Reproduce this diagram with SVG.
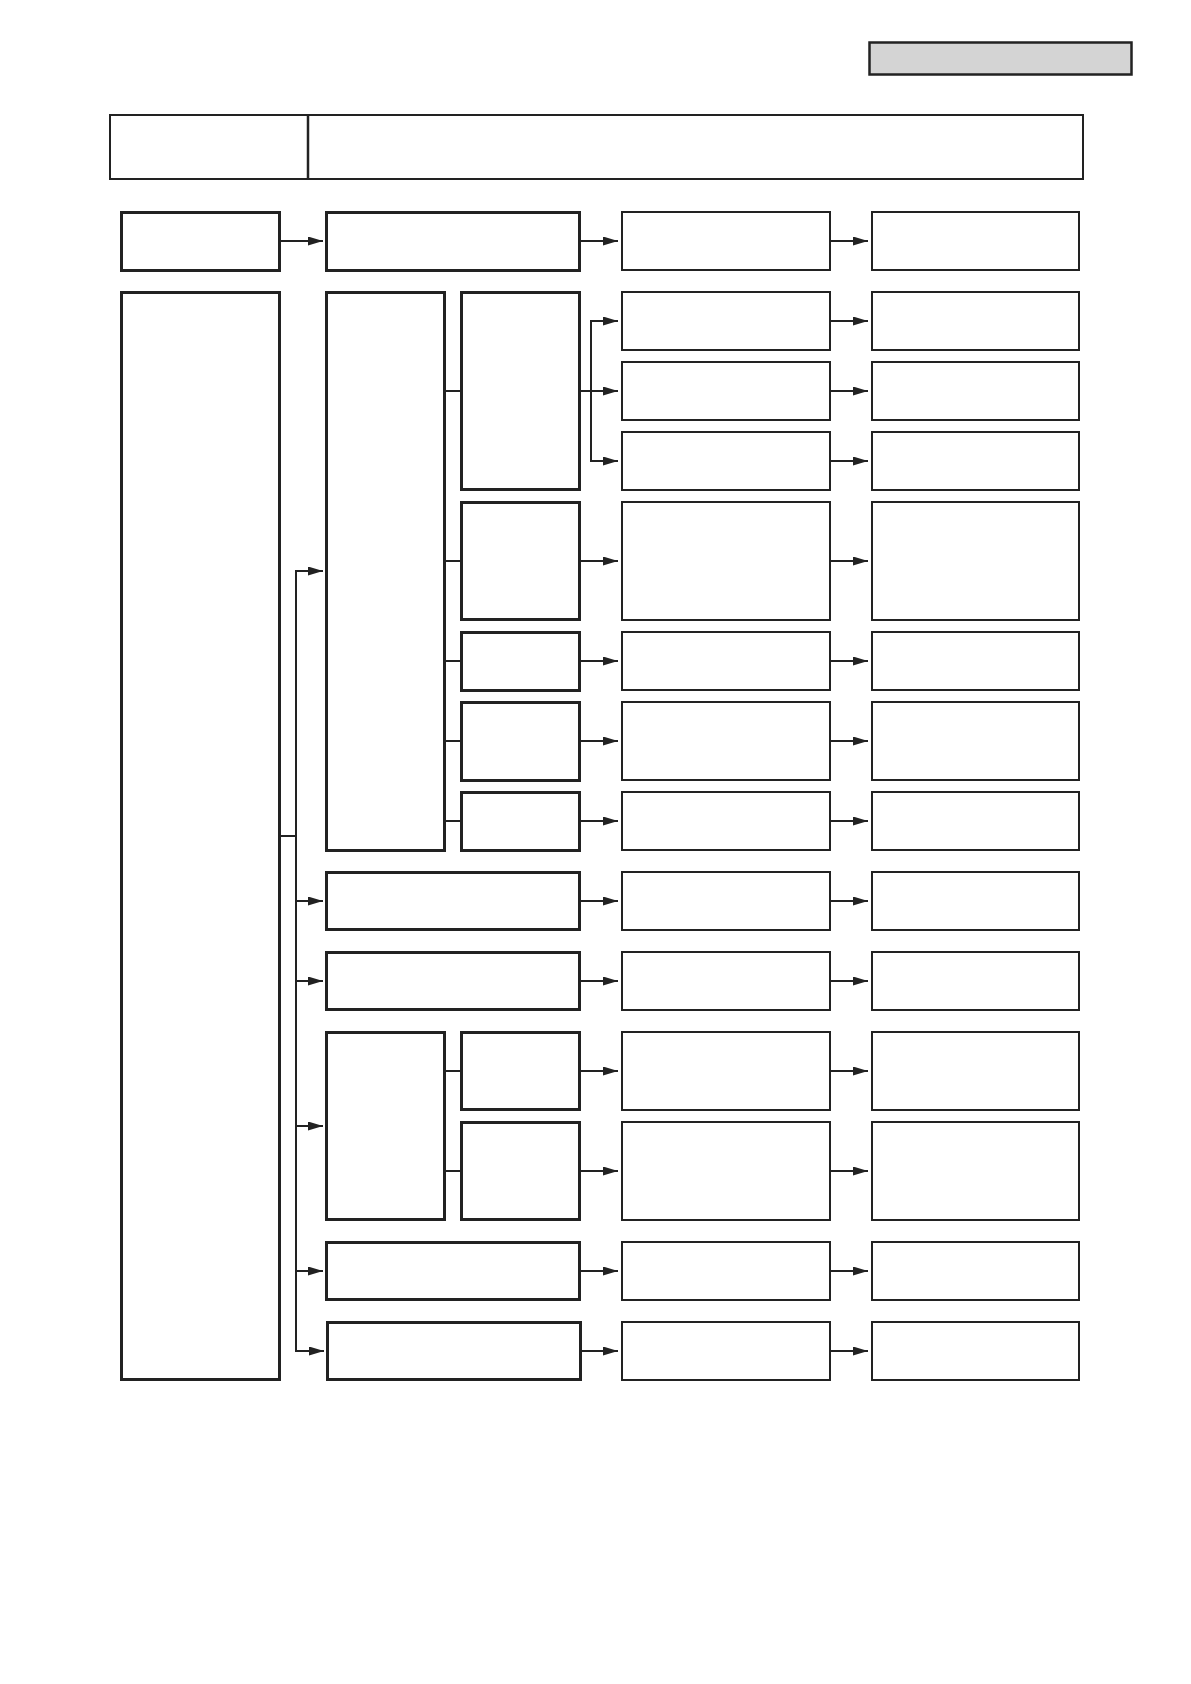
<svg xmlns="http://www.w3.org/2000/svg" width="1191" height="1684" viewBox="0 0 1191 1684">
<style>
rect{fill:#fff;stroke:#222}
.b{stroke-width:3}
.t{stroke-width:2}
.g{fill:#d4d4d4;stroke-width:2.5}
#connectors line{stroke:#222;stroke-width:2}
.a{marker-end:url(#arr)}
</style>
<defs>
<marker id="arr" markerUnits="userSpaceOnUse" markerWidth="15" markerHeight="9" refX="15" refY="4.5" orient="auto">
<path d="M0,0 L15,4.5 L0,9 z" fill="#222"/>
</marker>
</defs>
<rect width="1191" height="1684" style="fill:#fff;stroke:none"/>
<g id="tag"><rect class="g" x="869.5" y="42.5" width="262" height="32"/></g>
<g id="header"><rect class="t" x="110" y="115" width="973" height="64"/><line x1="308" y1="115" x2="308" y2="179" stroke="#222" stroke-width="2.5"/></g>
<g id="colA">
<rect id="A" class="b" x="121.5" y="212.5" width="158" height="58"/>
<rect id="Lbig" class="b" x="121.5" y="292.5" width="158" height="1087"/>
</g>
<g id="colB">
<rect id="B0" class="b" x="326.5" y="212.5" width="253" height="58"/>
<rect id="E" class="b" x="326.5" y="292.5" width="118" height="558"/>
<rect id="F" class="b" x="461.5" y="292.5" width="118" height="197"/>
<rect id="G" class="b" x="461.5" y="502.5" width="118" height="117"/>
<rect id="H" class="b" x="461.5" y="632.5" width="118" height="58"/>
<rect id="I" class="b" x="461.5" y="702.5" width="118" height="78"/>
<rect id="J" class="b" x="461.5" y="792.5" width="118" height="58"/>
<rect id="R8" class="b" x="326.5" y="872.5" width="253" height="57"/>
<rect id="R9" class="b" x="326.5" y="952.5" width="253" height="57"/>
<rect id="K" class="b" x="326.5" y="1032.5" width="118" height="187"/>
<rect id="Lb" class="b" x="461.5" y="1032.5" width="118" height="77"/>
<rect id="M" class="b" x="461.5" y="1122.5" width="118" height="97"/>
<rect id="R12" class="b" x="326.5" y="1242.5" width="253" height="57"/>
<rect id="R13" class="b" x="327.5" y="1322.5" width="253" height="57"/>
</g>
<g id="colC">
<rect class="t" x="622" y="212" width="208" height="58"/>
<rect class="t" x="622" y="292" width="208" height="58"/>
<rect class="t" x="622" y="362" width="208" height="58"/>
<rect class="t" x="622" y="432" width="208" height="58"/>
<rect class="t" x="622" y="502" width="208" height="118"/>
<rect class="t" x="622" y="632" width="208" height="58"/>
<rect class="t" x="622" y="702" width="208" height="78"/>
<rect class="t" x="622" y="792" width="208" height="58"/>
<rect class="t" x="622" y="872" width="208" height="58"/>
<rect class="t" x="622" y="952" width="208" height="58"/>
<rect class="t" x="622" y="1032" width="208" height="78"/>
<rect class="t" x="622" y="1122" width="208" height="98"/>
<rect class="t" x="622" y="1242" width="208" height="58"/>
<rect class="t" x="622" y="1322" width="208" height="58"/>
</g>
<g id="colD">
<rect class="t" x="872" y="212" width="207" height="58"/>
<rect class="t" x="872" y="292" width="207" height="58"/>
<rect class="t" x="872" y="362" width="207" height="58"/>
<rect class="t" x="872" y="432" width="207" height="58"/>
<rect class="t" x="872" y="502" width="207" height="118"/>
<rect class="t" x="872" y="632" width="207" height="58"/>
<rect class="t" x="872" y="702" width="207" height="78"/>
<rect class="t" x="872" y="792" width="207" height="58"/>
<rect class="t" x="872" y="872" width="207" height="58"/>
<rect class="t" x="872" y="952" width="207" height="58"/>
<rect class="t" x="872" y="1032" width="207" height="78"/>
<rect class="t" x="872" y="1122" width="207" height="98"/>
<rect class="t" x="872" y="1242" width="207" height="58"/>
<rect class="t" x="872" y="1322" width="207" height="58"/>
</g>
<g id="connectors">
<line class="a" x1="281" y1="241" x2="323" y2="241"/>
<line class="a" x1="581" y1="241" x2="618" y2="241"/>
<line x1="281" y1="836" x2="297" y2="836"/>
<line x1="296" y1="570" x2="296" y2="1352"/>
<line class="a" x1="296" y1="571" x2="323" y2="571"/>
<line class="a" x1="296" y1="901" x2="323" y2="901"/>
<line class="a" x1="296" y1="981" x2="323" y2="981"/>
<line class="a" x1="296" y1="1126" x2="323" y2="1126"/>
<line class="a" x1="296" y1="1271" x2="323" y2="1271"/>
<line class="a" x1="295" y1="1351" x2="324" y2="1351"/>
<line x1="446" y1="391" x2="460" y2="391"/>
<line x1="446" y1="561" x2="460" y2="561"/>
<line x1="446" y1="661" x2="460" y2="661"/>
<line x1="446" y1="741" x2="460" y2="741"/>
<line x1="446" y1="821" x2="460" y2="821"/>
<line x1="446" y1="1071" x2="460" y2="1071"/>
<line x1="446" y1="1171" x2="460" y2="1171"/>
<line x1="581" y1="391" x2="592" y2="391"/>
<line x1="591" y1="320" x2="591" y2="462"/>
<line class="a" x1="590" y1="321" x2="618" y2="321"/>
<line class="a" x1="591" y1="391" x2="618" y2="391"/>
<line class="a" x1="590" y1="461" x2="618" y2="461"/>
<line class="a" x1="581" y1="561" x2="618" y2="561"/>
<line class="a" x1="581" y1="661" x2="618" y2="661"/>
<line class="a" x1="581" y1="741" x2="618" y2="741"/>
<line class="a" x1="581" y1="821" x2="618" y2="821"/>
<line class="a" x1="581" y1="901" x2="618" y2="901"/>
<line class="a" x1="581" y1="981" x2="618" y2="981"/>
<line class="a" x1="581" y1="1071" x2="618" y2="1071"/>
<line class="a" x1="581" y1="1171" x2="618" y2="1171"/>
<line class="a" x1="581" y1="1271" x2="618" y2="1271"/>
<line class="a" x1="582" y1="1351" x2="618" y2="1351"/>
<line class="a" x1="831" y1="241" x2="868" y2="241"/>
<line class="a" x1="831" y1="321" x2="868" y2="321"/>
<line class="a" x1="831" y1="391" x2="868" y2="391"/>
<line class="a" x1="831" y1="461" x2="868" y2="461"/>
<line class="a" x1="831" y1="561" x2="868" y2="561"/>
<line class="a" x1="831" y1="661" x2="868" y2="661"/>
<line class="a" x1="831" y1="741" x2="868" y2="741"/>
<line class="a" x1="831" y1="821" x2="868" y2="821"/>
<line class="a" x1="831" y1="901" x2="868" y2="901"/>
<line class="a" x1="831" y1="981" x2="868" y2="981"/>
<line class="a" x1="831" y1="1071" x2="868" y2="1071"/>
<line class="a" x1="831" y1="1171" x2="868" y2="1171"/>
<line class="a" x1="831" y1="1271" x2="868" y2="1271"/>
<line class="a" x1="831" y1="1351" x2="868" y2="1351"/>
</g>
</svg>
